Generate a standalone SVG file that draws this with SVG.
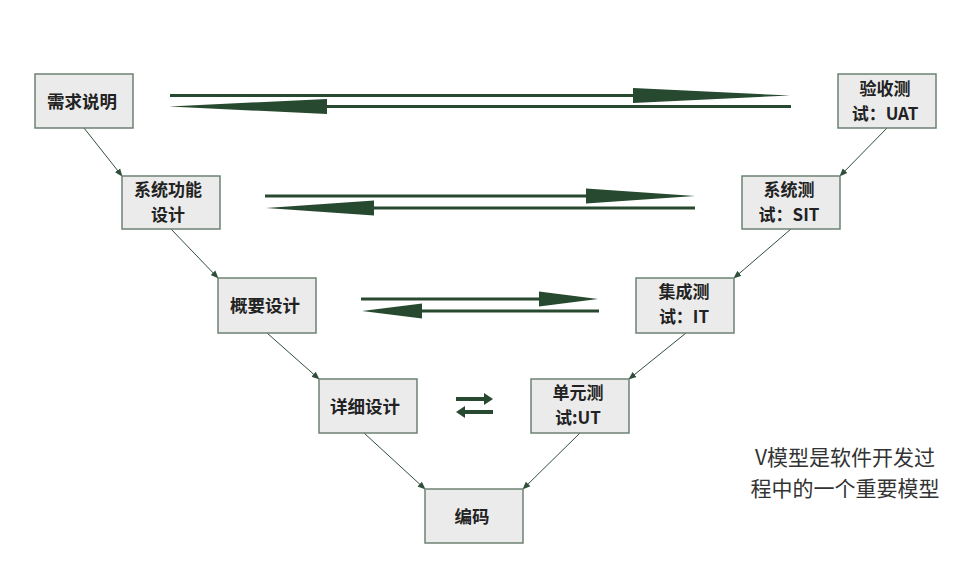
<svg xmlns="http://www.w3.org/2000/svg" width="959" height="569" viewBox="0 0 959 569">
<defs>
<style>
.box{fill:#ebebeb;stroke:#6e8274;stroke-width:1.5}
.t{font-family:"Noto Sans CJK SC","Liberation Sans",sans-serif;font-size:17.5px;font-weight:bold;fill:#222;text-anchor:middle}
.t2{font-family:"Noto Sans CJK SC","Liberation Sans",sans-serif;font-size:17px;font-weight:bold;fill:#222;text-anchor:middle}
.cap{font-family:"Noto Sans CJK SC","Liberation Sans",sans-serif;font-size:21px;fill:#333;text-anchor:middle}
.con{stroke:#2f4f3a;stroke-width:1;fill:none;marker-end:url(#ah)}
.big{stroke:#27492f;stroke-width:3;fill:none}
.sm{stroke:#27492f;stroke-width:4;fill:none}
.hd{fill:#27492f}
</style>
<marker id="ah" viewBox="0 0 10 10" refX="9" refY="5" markerWidth="8" markerHeight="8" markerUnits="userSpaceOnUse" orient="auto">
<path d="M0,1 L10,5 L0,9 z" fill="#2f4f3a"/>
</marker>
</defs>
<rect width="959" height="569" fill="#ffffff"/>
<g id="connectors">
<line class="con" x1="84" y1="128" x2="122" y2="176"/>
<line class="con" x1="171" y1="229" x2="218" y2="278"/>
<line class="con" x1="267" y1="333" x2="319" y2="379"/>
<line class="con" x1="364" y1="433" x2="425" y2="489"/>
<line class="con" x1="887" y1="128" x2="840" y2="176"/>
<line class="con" x1="791" y1="229" x2="734" y2="278"/>
<line class="con" x1="686" y1="333" x2="629" y2="379"/>
<line class="con" x1="580" y1="433" x2="523" y2="489"/>
<line class="big" x1="170" y1="95.5" x2="634" y2="95.5"/>
<polygon class="hd" points="633,88 790,95.5 633,103"/>
<line class="big" x1="326" y1="106.5" x2="791" y2="106.5"/>
<polygon class="hd" points="327,99 169,106.5 327,114"/>
<line class="big" x1="265" y1="196" x2="587" y2="196"/>
<polygon class="hd" points="586,188.5 695,196 586,203.5"/>
<line class="big" x1="373" y1="208" x2="695" y2="208"/>
<polygon class="hd" points="374,200.5 266,208 374,215.5"/>
<line class="big" x1="361" y1="299" x2="540" y2="299"/>
<polygon class="hd" points="539,291.5 598,299 539,306.5"/>
<line class="big" x1="421" y1="311" x2="599" y2="311"/>
<polygon class="hd" points="422,303.5 362,311 422,318.5"/>
<line class="sm" x1="456" y1="399" x2="485" y2="399"/>
<polygon class="hd" points="484,393 493,399 484,405"/>
<line class="sm" x1="464" y1="412" x2="493" y2="412"/>
<polygon class="hd" points="465,406 456,412 465,418"/>
</g>
<g id="n1"><rect class="box" x="35" y="74" width="98" height="54"/><text class="t" x="82" y="107.5">需求说明</text></g>
<g id="n2"><rect class="box" x="122" y="176" width="98" height="53"/><text class="t2" x="168" y="196">系统功能</text><text class="t2" x="168" y="221">设计</text></g>
<g id="n3"><rect class="box" x="218" y="278" width="98" height="55"/><text class="t" x="265" y="311.5">概要设计</text></g>
<g id="n4"><rect class="box" x="319" y="379" width="98" height="54"/><text class="t" x="365" y="412.5">详细设计</text></g>
<g id="n5"><rect class="box" x="425" y="489" width="98" height="54"/><text class="t" x="472" y="522.5">编码</text></g>
<g id="n6"><rect class="box" x="531" y="379" width="98" height="54"/><text class="t2" x="578" y="399">单元测</text><text class="t2" x="578" y="424">试:UT</text></g>
<g id="n7"><rect class="box" x="636" y="278" width="98" height="55"/><text class="t2" x="684" y="298">集成测</text><text class="t2" x="684" y="323">试：IT</text></g>
<g id="n8"><rect class="box" x="742" y="176" width="98" height="53"/><text class="t2" x="789" y="196">系统测</text><text class="t2" x="789" y="221">试：SIT</text></g>
<g id="n9"><rect class="box" x="838" y="74" width="98" height="54"/><text class="t2" x="885" y="95">验收测</text><text class="t2" x="885" y="120">试：UAT</text></g>
<g id="caption">
<text class="cap" x="845" y="465">V模型是软件开发过</text>
<text class="cap" x="845" y="496">程中的一个重要模型</text>
</g>
</svg>
